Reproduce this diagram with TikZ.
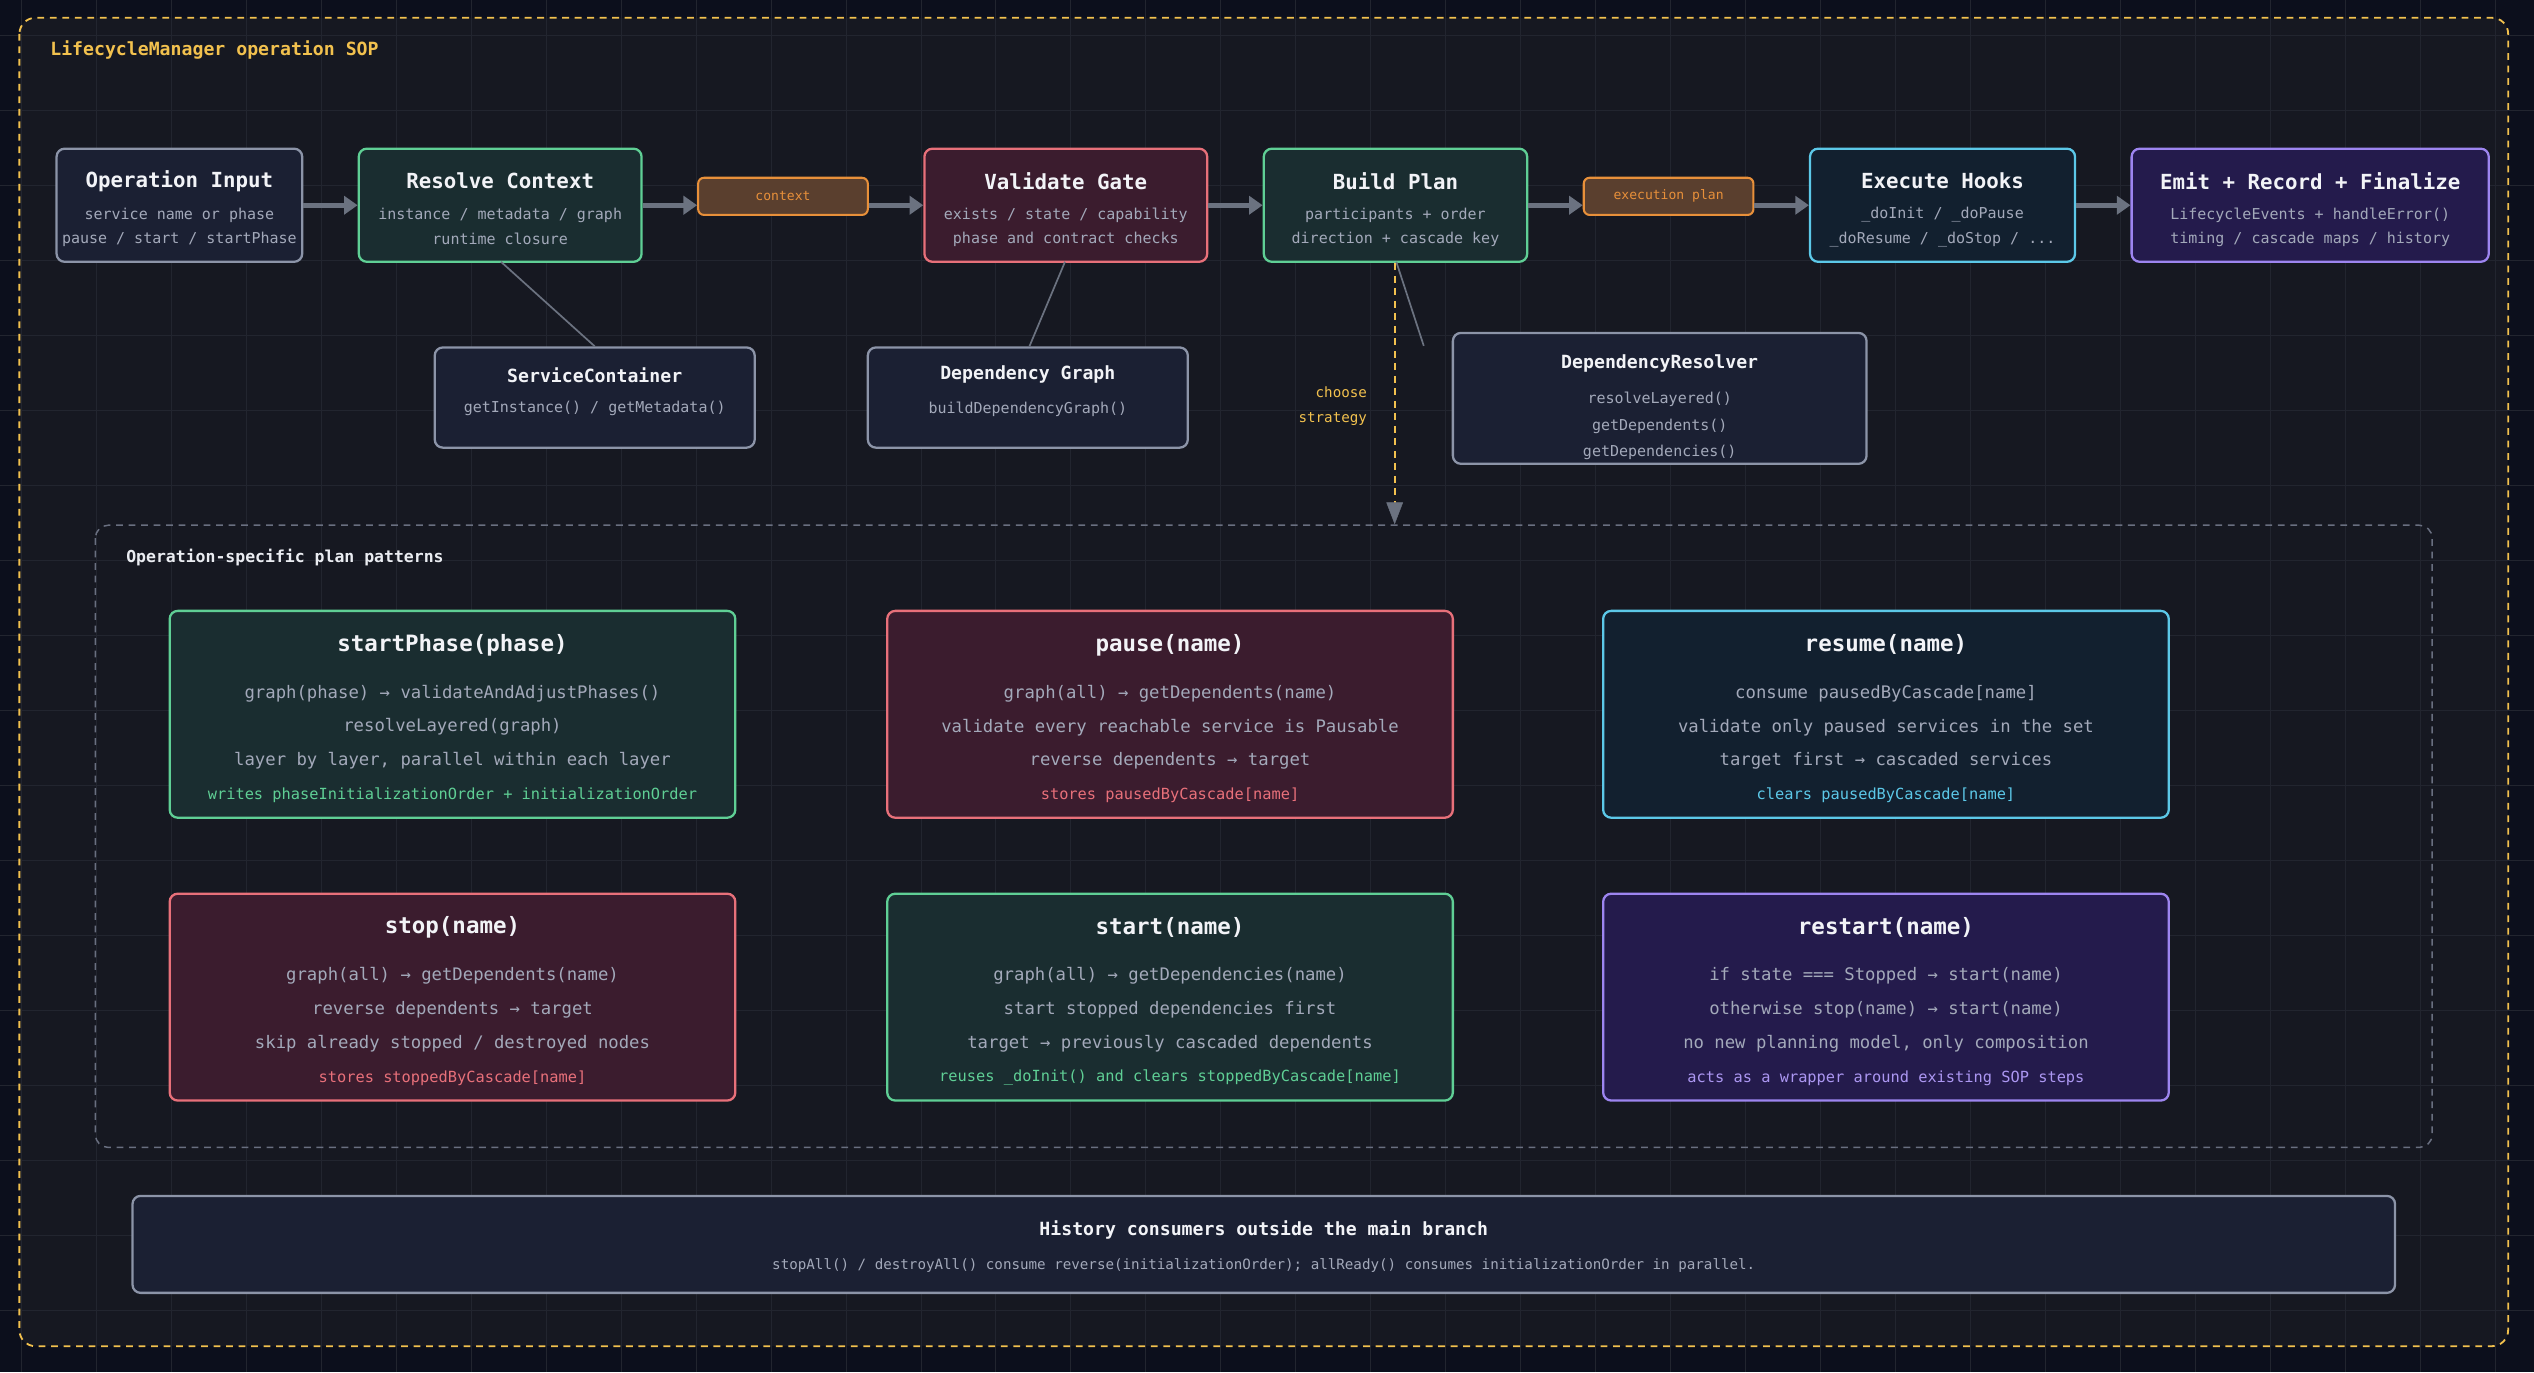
\documentclass[tikz,border=0pt]{standalone}
\usepackage{fontspec}
\setmonofont{DejaVu Sans Mono}
\usetikzlibrary{arrows.meta}
\definecolor{bgout}{HTML}{0C0F1C}
\definecolor{bgin}{HTML}{161821}
\definecolor{gridc}{HTML}{22252F}
\definecolor{tw}{HTML}{F2F3F7}
\definecolor{ts}{HTML}{A3A9BA}
\definecolor{yel}{HTML}{F2C14E}
\definecolor{grF}{HTML}{1B2033}\definecolor{grD}{HTML}{8C94A8}
\definecolor{gnF}{HTML}{1A2D30}\definecolor{gnD}{HTML}{5FCF95}
\definecolor{rdF}{HTML}{3B1C2E}\definecolor{rdD}{HTML}{E8707A}
\definecolor{cyF}{HTML}{12202F}\definecolor{cyD}{HTML}{5CC8E8}
\definecolor{puF}{HTML}{241B4C}\definecolor{puD}{HTML}{9D85F0}
\definecolor{orF}{HTML}{5A3F2E}\definecolor{orD}{HTML}{E8903A}
\definecolor{arr}{HTML}{6B7280}
\tikzset{
  x=0.5mm,y=-0.5mm,
  box/.style={draw, line width=2pt, rounded corners=2.5mm},
  gray box/.style={box, draw=grD, fill=grF},
  green box/.style={box, draw=gnD, fill=gnF},
  red box/.style={box, draw=rdD, fill=rdF},
  cyan box/.style={box, draw=cyD, fill=cyF},
  purple box/.style={box, draw=puD, fill=puF},
  chip/.style={draw=orD, fill=orF, line width=1.8pt, rounded corners=1.8mm, text=orD, font=\ttfamily\fontsize{11.5}{12}\selectfont, inner sep=0pt},
  ttl/.style={text=tw, font=\ttfamily\bfseries\fontsize{18.3}{20}\selectfont, inner sep=0pt},
  sub/.style={text=ts, font=\ttfamily\fontsize{13.2}{14}\selectfont, inner sep=0pt},
  bttl/.style={text=tw, font=\ttfamily\bfseries\fontsize{19.8}{21}\selectfont, inner sep=0pt},
  bsub/.style={text=ts, font=\ttfamily\fontsize{15.2}{16}\selectfont, inner sep=0pt},
  bfoot/.style={font=\ttfamily\fontsize{13.5}{14}\selectfont, inner sep=0pt},
  flow/.style={draw=arr, line width=4pt, -{Triangle[length=12pt,width=16pt]}},
  link/.style={draw=arr, line width=1.5pt},
}
\newcommand{\mkbox}[6]{% name, style, x1,y1,x2,y2
  \node[#2, minimum width={(#5-#3)*0.5mm}, minimum height={(#6-#4)*0.5mm}, inner sep=0pt] (#1) at ({(#3+#5)/2},{(#4+#6)/2}) {};}
\newcommand{\topbox}[7]{% name style x1 x2 title l1 l2
  \mkbox{#1}{#2}{#3}{92}{#4}{162}
  \node[ttl] (#1t) at ({(#3+#4)/2},112) {#5};
  \node[sub] (#1a) at ({(#3+#4)/2},133) {#6};
  \node[sub] (#1b) at ({(#3+#4)/2},148) {#7};}
\newcommand{\planbox}[9]{% name style x1 y1 title l1 l2 l3 footer(with color)
  \mkbox{#1}{#2}{#3}{#4}{#3+350}{#4+128}
  \node[bttl] (#1t) at ({#3+175},{#4+21}) {#5};
  \node[bsub] (#1a) at ({#3+175},{#4+51}) {#6};
  \node[bsub] (#1b) at ({#3+175},{#4+72}) {#7};
  \node[bsub] (#1c) at ({#3+175},{#4+93}) {#8};
  \node[bfoot] (#1d) at ({#3+175},{#4+114}) {#9};}
\begin{document}
\begin{tikzpicture}
\useasboundingbox (0,0) rectangle (1568,849);
\fill[bgout] (0,0) rectangle (1568,849);
\fill[bgin, rounded corners=5mm] (12,11) rectangle (1552,833);
\foreach \x in {13,59.4,...,1568} \draw[gridc, line width=0.6pt] (\x,0) -- (\x,849);
\foreach \y in {22,68.4,...,849} \draw[gridc, line width=0.6pt] (0,\y) -- (1568,\y);
\draw[yel, line width=1.6pt, dash pattern=on 6pt off 5pt, rounded corners=5mm] (12,11) rectangle (1552,833);
\node[anchor=west, text=yel, font=\ttfamily\bfseries\fontsize{16}{18}\selectfont, inner sep=0pt] (title) at (31,31) {LifecycleManager operation SOP};

% top row
\topbox{inp}{gray box}{35}{187}{Operation Input}{service name or phase}{pause / start / startPhase}
\topbox{ctx}{green box}{222}{397}{Resolve Context}{instance / metadata / graph}{runtime closure}
\topbox{val}{red box}{572}{747}{Validate Gate}{exists / state / capability}{phase and contract checks}
\topbox{plan}{green box}{782}{945}{Build Plan}{participants + order}{direction + cascade key}
\topbox{exe}{cyan box}{1120}{1284}{Execute Hooks}{\_doInit / \_doPause}{\_doResume / \_doStop / ...}
\topbox{emit}{purple box}{1319}{1540}{Emit + Record + Finalize}{LifecycleEvents + handleError()}{timing / cascade maps / history}
\node[chip, minimum width=52.5mm, minimum height=11.5mm] (cchip) at (484.5,121.5) {context};
\node[chip, minimum width=52.5mm, minimum height=11.5mm] (echip) at (1032.5,121.5) {execution plan};
\draw[flow] (inp.east) -- (ctx.west);
\draw[flow] (ctx.east) -- (ctx.east -| cchip.west);
\draw[flow] (val.west -| cchip.east) -- (val.west);
\draw[flow] (val.east) -- (plan.west);
\draw[flow] (plan.east) -- (plan.east -| echip.west);
\draw[flow] (exe.west -| echip.east) -- (exe.west);
\draw[flow] (exe.east) -- (emit.west);

% second row
\mkbox{sc}{gray box}{269}{215}{467}{277}
\node[ttl, font=\ttfamily\bfseries\fontsize{16}{18}\selectfont] (sct) at (368,232) {ServiceContainer};
\node[sub] (sca) at (368,253) {getInstance() / getMetadata()};
\mkbox{dg}{gray box}{537}{215}{735}{277}
\node[ttl, font=\ttfamily\bfseries\fontsize{16}{18}\selectfont] (dgt) at (636,232) {Dependency Graph};
\node[sub] (dga) at (636,253) {buildDependencyGraph()};
\mkbox{dr}{gray box}{899}{206}{1155}{287}
\node[ttl, font=\ttfamily\bfseries\fontsize{16}{18}\selectfont] (drt) at (1027,225) {DependencyResolver};
\node[sub] (dra) at (1027,247) {resolveLayered()};
\node[sub] (drb) at (1027,264) {getDependents()};
\node[sub] (drc) at (1027,280) {getDependencies()};
\draw[link] (310,162) -- (sc.north);
\draw[link] (659,162) -- (dg.north -| 637,0);
\coordinate (drend) at (881,214);
\draw[link] (864,162) -- (drend);

% strategy arrow
\coordinate (stratend) at (863,324);
\draw[yel, line width=1.6pt, dash pattern=on 6pt off 5pt] (863,163) -- (863,312);
\draw[arr, fill=arr] (858,311) -- (868,311) -- (863,324) -- cycle;
\node[anchor=east, text=yel, font=\ttfamily\fontsize{12.5}{13}\selectfont, inner sep=0pt, align=right] (choose) at (846,243) {choose};
\node[anchor=east, text=yel, font=\ttfamily\fontsize{12.5}{13}\selectfont, inner sep=0pt] (strat) at (846,259) {strategy};

% patterns
\draw[grD!70!bgin, line width=1.3pt, dash pattern=on 6pt off 5pt, rounded corners=4mm] (59,325) rectangle (1505,710);
\node[anchor=west, text=tw!90!ts, font=\ttfamily\bfseries\fontsize{14.5}{16}\selectfont, inner sep=0pt] (ptitle) at (78,345) {Operation-specific plan patterns};

\planbox{p1}{green box}{105}{378}{startPhase(phase)}{graph(phase) → validateAndAdjustPhases()}{resolveLayered(graph)}{layer by layer, parallel within each layer}{\textcolor{gnD}{writes phaseInitializationOrder + initializationOrder}}
\planbox{p2}{red box}{549}{378}{pause(name)}{graph(all) → getDependents(name)}{validate every reachable service is Pausable}{reverse dependents → target}{\textcolor{rdD}{stores pausedByCascade[name]}}
\planbox{p3}{cyan box}{992}{378}{resume(name)}{consume pausedByCascade[name]}{validate only paused services in the set}{target first → cascaded services}{\textcolor{cyD}{clears pausedByCascade[name]}}
\planbox{p4}{red box}{105}{553}{stop(name)}{graph(all) → getDependents(name)}{reverse dependents → target}{skip already stopped / destroyed nodes}{\textcolor{rdD}{stores stoppedByCascade[name]}}
\planbox{p5}{green box}{549}{553}{start(name)}{graph(all) → getDependencies(name)}{start stopped dependencies first}{target → previously cascaded dependents}{\textcolor{gnD}{reuses \_doInit() and clears stoppedByCascade[name]}}
\planbox{p6}{purple box}{992}{553}{restart(name)}{if state === Stopped → start(name)}{otherwise stop(name) → start(name)}{no new planning model, only composition}{\textcolor{puD!85!white}{acts as a wrapper around existing SOP steps}}

% history
\mkbox{hist}{gray box}{82}{740}{1482}{800}
\node[ttl, font=\ttfamily\bfseries\fontsize{16}{18}\selectfont] (histt) at (782,761) {History consumers outside the main branch};
\node[sub, font=\ttfamily\fontsize{12.5}{13}\selectfont] (hista) at (782,783) {stopAll() / destroyAll() consume reverse(initializationOrder); allReady() consumes initializationOrder in parallel.};
\end{tikzpicture}
\end{document}
